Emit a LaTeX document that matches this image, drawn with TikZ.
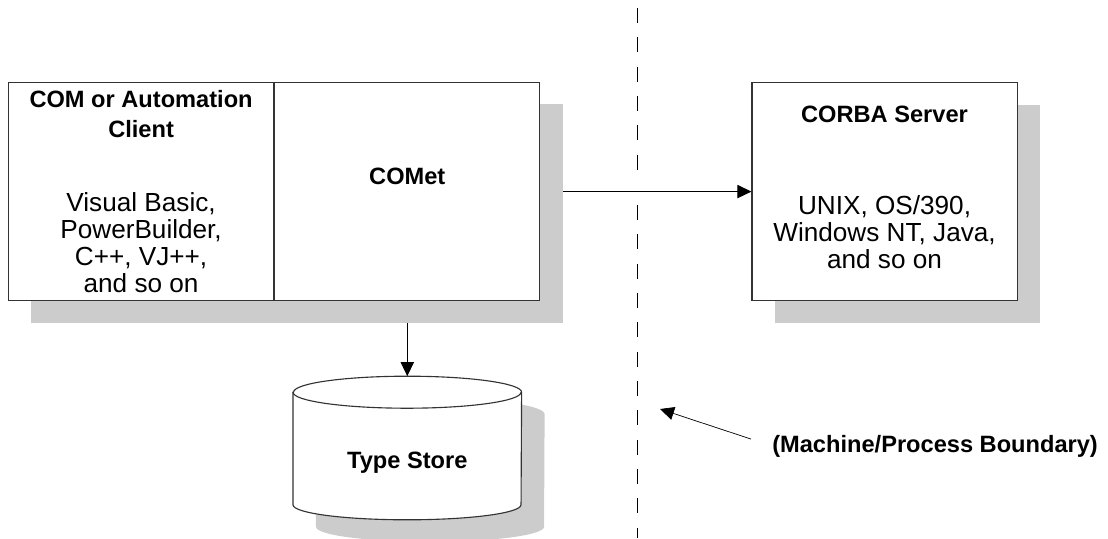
\documentclass[tikz,border=0pt]{standalone}
\usepackage{fontspec}
\setmainfont{Liberation Sans}
\usetikzlibrary{positioning,arrows.meta,shadows,backgrounds}
\definecolor{shadowgray}{HTML}{CCCCCC}
\newcommand\boxhead{\fontsize{16.8pt}{19.2pt}\selectfont\bfseries}
\newcommand\boxtext{\fontsize{18.6pt}{19.2pt}\selectfont}

\begin{document}
\begin{tikzpicture}[%
    x=0.025cm, y=-0.025cm,        % one unit is one pixel, y runs down
    >={Triangle[length=3.5mm,width=3.3mm]}, % filled arrow heads
    node distance=0pt,            % boxes of the client side touch
    ]
% -------------------------------------------------
% A few box styles
\tikzset{
  base/.style={draw=black!80, line width=0.8pt, inner sep=0pt, align=center, font=\boxtext},
  grayshadow/.style={drop shadow={shadow xshift=5.75mm, shadow yshift=-5.5mm,
      fill=shadowgray, opacity=1}},
  tier/.style={base, fill=white, minimum width=6.625cm, minimum height=5.45cm},
  store/.style={inner sep=0pt, minimum width=5.7cm, minimum height=3.575cm, font=\boxhead},
  % Connector line styles
  link/.style={->, line width=0.7pt},
  hint/.style={->, line width=0.5pt},
  boundary/.style={dash pattern=on 3.75mm off 3.58mm, line width=0.7pt}
}
\useasboundingbox (0,0) rectangle (1108,538);
% -------------------------------------------------
% Start by placing the nodes
\node [tier, anchor=north west] (client) at (8,82)
  {{\boxhead COM or Automation}\\[2.1pt]{\boxhead Client}\\[33.4pt]
   Visual Basic,\\PowerBuilder,\\C++, VJ++,\\and so on};
\node [tier, right=of client, text height=12pt, text depth=22pt] (comet) {\boxhead COMet};
\node [tier, grayshadow, right=5.275cm of comet, text depth=6pt] (server)
  {{\boxhead CORBA Server}\\[46pt]UNIX, OS/390,\\Windows NT, Java,\\and so on};
\node [store, below=1.875cm of comet, text height=28.6pt, text depth=0pt] (store) {Type Store};

% one shadow under client and COMet, and the drum of the type store
\begin{scope}[on background layer]
\fill[shadowgray] ([xshift=5.75mm, yshift=-5.5mm]client.north west)
  rectangle ([xshift=5.75mm, yshift=-5.5mm]comet.south east);
\filldraw[base, fill=white, grayshadow]
  ([yshift=-4mm]store.north west) -- ([yshift=3.75mm]store.south west)
  arc[start angle=180, end angle=360, x radius=2.85cm, y radius=3.75mm]
  -- ([yshift=-4mm]store.north east)
  arc[start angle=0, end angle=180, x radius=2.85cm, y radius=4mm] -- cycle;
\draw[base] ([yshift=-4mm]store.north west)
  arc[start angle=180, end angle=360, x radius=2.85cm, y radius=4mm];
\end{scope}

% machine/process boundary
\coordinate (cut top) at (637,8);
\coordinate (cut a) at (637,170);
\coordinate (cut b) at (637,205);
\coordinate (cut bottom) at (637,538);
\draw[boundary] (cut top) -- (cut a);
\draw[boundary] (cut b) -- (cut bottom);

\node [anchor=west, inner sep=0pt, font=\boxhead] (bound) at (772,446) {(Machine/Process Boundary)};
\coordinate (bound tip) at (660,409);

\draw[link, shorten <=5.75mm] (comet.east) -- (server.west); %COMet,CORBA Server
\draw[link, shorten <=5.5mm] (comet.south) -- (store.north);  %COMet,Type Store
\draw[hint, shorten <=5.5mm] (bound.west) -- (bound tip);     %label,boundary
% -------------------------------------------------
\end{tikzpicture}
\end{document}
